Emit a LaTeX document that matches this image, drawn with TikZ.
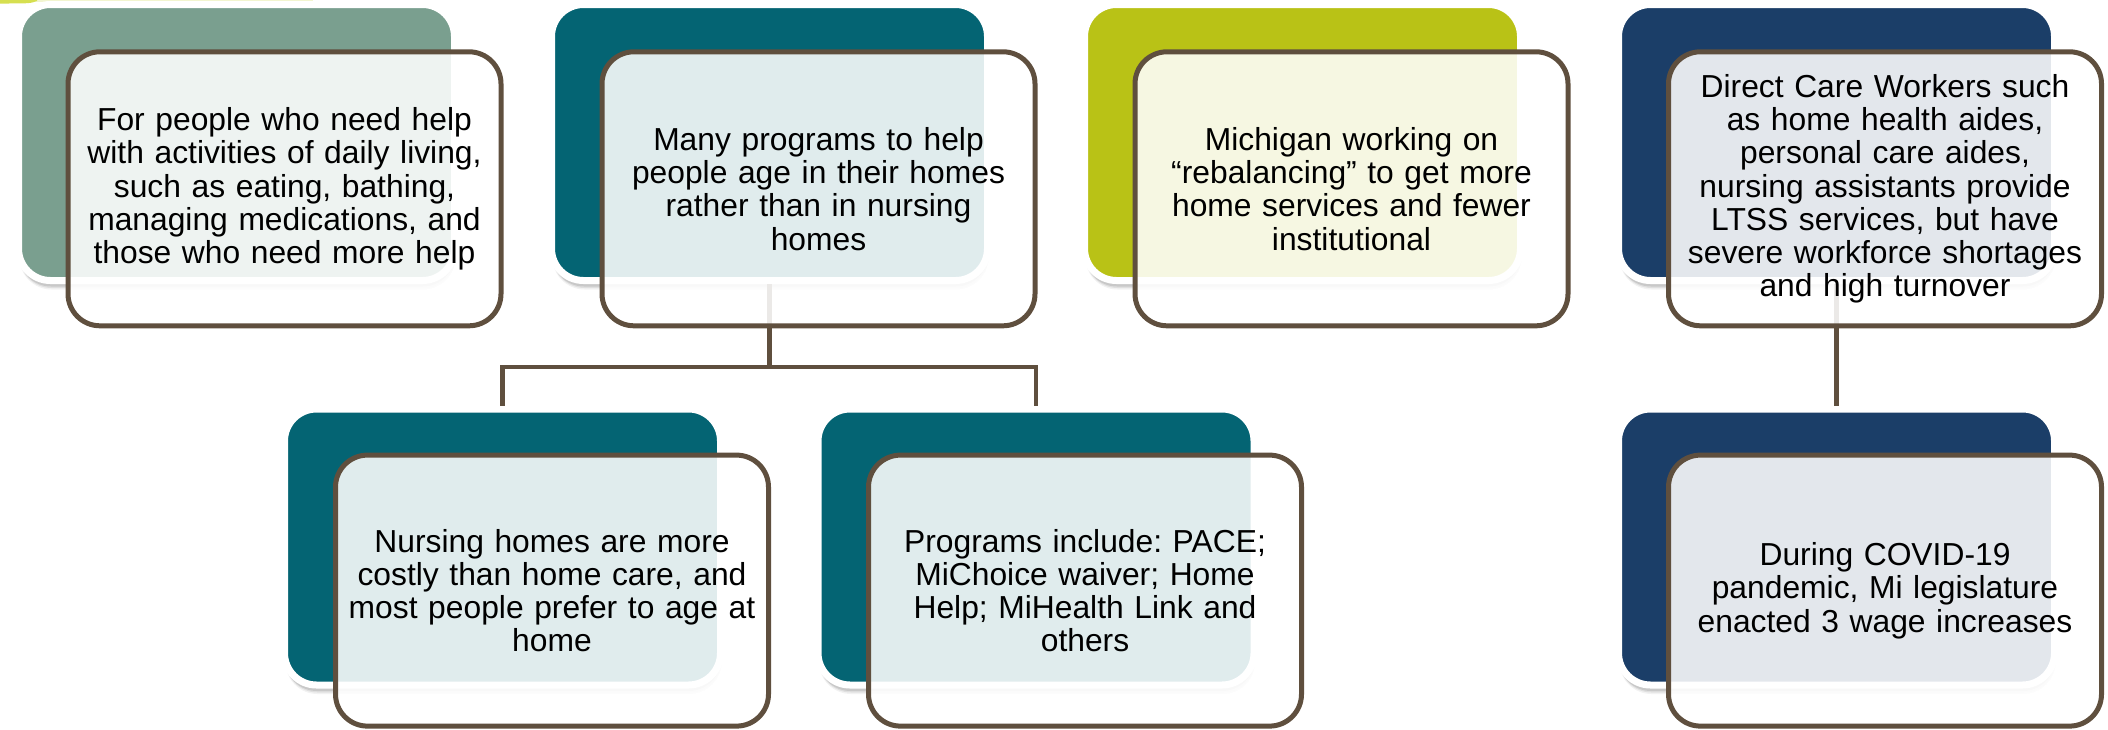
\documentclass[tikz,border=0pt]{standalone}
\usepackage{fontspec}
\setmainfont{Liberation Sans}
\usetikzlibrary{shadows}
\frenchspacing

\definecolor{cardsage}{HTML}{7A9F8F}
\definecolor{cardteal}{HTML}{046473}
\definecolor{cardlime}{HTML}{B9C216}
\definecolor{cardnavy}{HTML}{1B3E68}
\definecolor{cardrim}{HTML}{5F4F3E}
\definecolor{cornerlime}{HTML}{D6DF50}
\definecolor{cornerpale}{HTML}{F2F5CF}

\newcommand\cardfont{\fontsize{31.8pt}{33.3pt}\selectfont}

\tikzset{
  backcard/.style={rounded corners=32pt, minimum width=436pt, minimum height=276pt,
    inner sep=0pt, draw=white, line width=7pt,
    drop shadow={shadow xshift=1pt, shadow yshift=-9pt, opacity=.05, fill=black},
    drop shadow={shadow xshift=1pt, shadow yshift=-7.5pt, opacity=.08, fill=black},
    drop shadow={shadow xshift=0.5pt, shadow yshift=-6pt, opacity=.10, fill=black}},
  frontcard/.style={draw=cardrim, line width=5pt, rounded corners=32pt, fill=white,
    fill opacity=.88, text opacity=1, minimum width=433pt, minimum height=274pt,
    inner sep=0pt, text width=425pt, align=center, font=\cardfont},
  lowrow/.style={minimum height=271pt},
  link/.style={draw=cardrim, line width=4.5pt}
}

\begin{document}
\begin{tikzpicture}[x=1pt, y=-1pt]
  \useasboundingbox (0,0) rectangle (2108,729);

  % small corner accent at the top left
  \fill[cornerpale] (0,0) rectangle (313,1.5);
  \fill[cornerlime] (0,0) -- (37,0) -- (37,1) .. controls (30,3.5) .. (0,3.5) -- cycle;

  % coloured back cards
  \node[backcard, fill=cardsage] (B1) at (236.5,142.5) {};
  \node[backcard, fill=cardteal] (B2) at (769.5,142.5) {};
  \node[backcard, fill=cardlime] (B3) at (1302.5,142.5) {};
  \node[backcard, fill=cardnavy] (B4) at (1836.5,142.5) {};
  \node[backcard, fill=cardteal] (B5) at (502.5,547) {};
  \node[backcard, fill=cardteal] (B6) at (1036,547) {};
  \node[backcard, fill=cardnavy] (B7) at (1836.5,547) {};

  % hierarchy links
  \draw[link] (B2.south) -- ++(0,83) -| (B5.north);
  \draw[link] (B2.south) -- ++(0,83) -| (B6.north);
  \draw[link] (B4.south) -- (B7.north);

  % text cards in front
  \node[frontcard] (F1) at (284.5,188.8)
    {For people who need help\\with activities of daily living,\\such as eating, bathing,\\managing medications, and\\those who need more help};
  \node[frontcard] (F2) at (818.5,188.8)
    {Many programs to help\\people age in their homes\\rather than in nursing\\homes};
  \node[frontcard] (F3) at (1351.5,188.8)
    {Michigan working on\\“rebalancing” to get more\\home services and fewer\\institutional};
  \node[frontcard] (F4) at (1885,188.8)
    {Direct Care Workers such\\as home health aides,\\personal care aides,\\nursing assistants provide\\LTSS services, but have\\severe workforce shortages\\and high turnover};
  \node[frontcard, lowrow] (F5) at (552,590.6)
    {Nursing homes are more\\costly than home care, and\\most people prefer to age at\\home};
  \node[frontcard, lowrow] (F6) at (1085,590.6)
    {Programs include: PACE;\\MiChoice waiver; Home\\Help; MiHealth Link and\\others};
  \node[frontcard, lowrow] (F7) at (1885,590.6)
    {During COVID-19\\pandemic, Mi legislature\\enacted 3 wage increases};
\end{tikzpicture}
\end{document}
